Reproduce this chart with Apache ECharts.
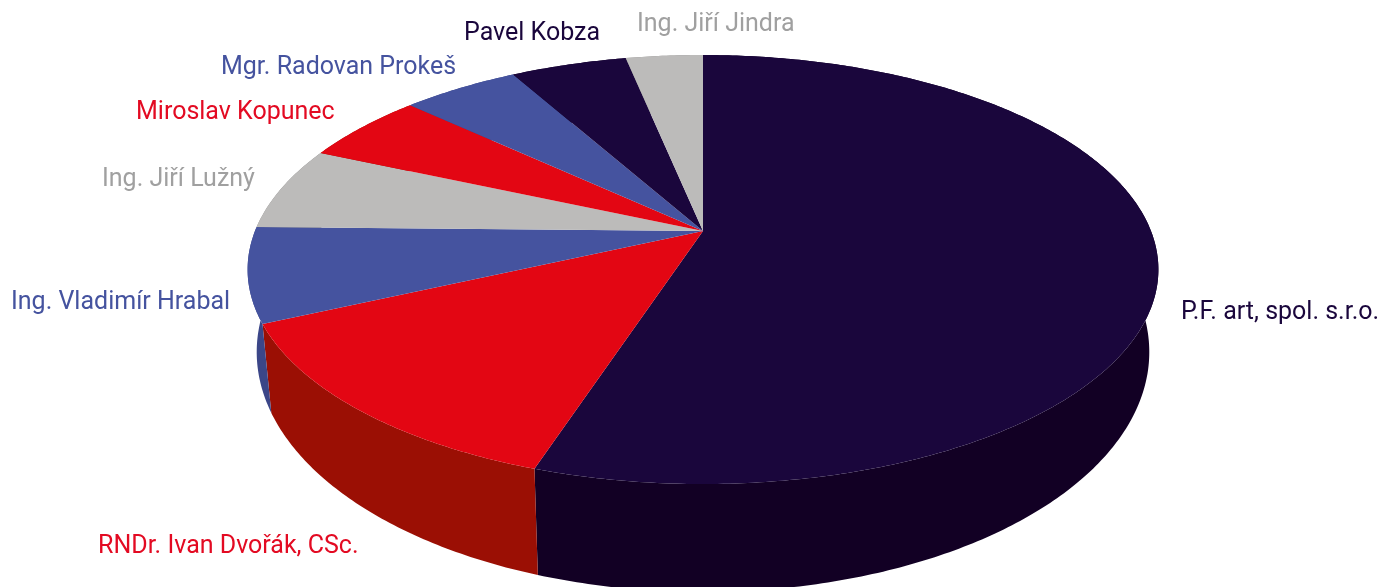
<!DOCTYPE html>
<html>
<head>
<meta charset="utf-8">
<style>html,body{margin:0;padding:0;background:#fff}#c{width:1386px;height:587px}</style>
<script src="https://cdn.jsdelivr.net/npm/echarts@6/dist/echarts.min.js"></script>
</head>
<body>
<div id="c"></div>
<script>
const categories = ['P.F. art, spol. s.r.o.','RNDr. Ivan Dvořák, CSc.','Ing. Vladimír Hrabal','Ing. Jiří Lužný','Miroslav Kopunec','Mgr. Radovan Prokeš','Pavel Kobza','Ing. Jiří Jindra'];
const shares = [55.05,13.15,7.1,6.3,5.3,4.95,4.9,3.25];
const topColors = ['#1a063c','#e30613','#45539f','#bcbbba','#e30613','#45539f','#1a063c','#bcbbba'];
const wallColors = ['#120024','#9b0f04','#3b4688','#8a8988','#9b0f04','#3b4688','#120024','#8a8988'];
const textColors = ['#1a063c','#e30a22','#45539f','#a0a0a0','#e30a22','#45539f','#1a063c','#a0a0a0'];
const labelX = [1181,98,11,102,136,221,464,637];
const labelY = [313,547,303,180,113,68,34,25];

const apex = {x:703,y:231}, a = 448, b = 207.6, k = 0.1795;
const wall = {sx:0.98, sy:1.119, cx:703, top:269.5, bottom:352};
const total = shares.reduce((s,v)=>s+v,0);
const starts = []; shares.reduce((s,v,i)=>{starts[i]=s;return s+v;},0);
const toAngle = v => v/total*Math.PI*2;
function rim(t){
  const u=Math.sin(t), v=-Math.cos(t), d=1-k*v;
  return [apex.x+a*u/d, apex.y+b*v/d];
}
function lower(p){
  return [wall.cx+(p[0]-wall.cx)*wall.sx, wall.bottom+(p[1]-wall.top)*wall.sy];
}
function arc(i){
  const t0=toAngle(starts[i]), t1=toAngle(starts[i]+shares[i]), n=Math.max(8,Math.ceil((t1-t0)*90)), pts=[];
  for(let j=0;j<=n;j++) pts.push(rim(t0+(t1-t0)*j/n));
  return pts;
}
const chart = echarts.init(document.getElementById('c'),null,{renderer:'canvas'});
chart.setOption({
  backgroundColor:'#fff',
  animation:false,
  series:[
    {type:'custom',coordinateSystem:'none',silent:true,z:1,data:shares,
     renderItem(p){
       const i=p.dataIndex, top=arc(i), bot=top.map(lower).reverse();
       return {type:'polygon',shape:{points:top.concat(bot)},style:{fill:wallColors[i]}};
     }},
    {type:'custom',coordinateSystem:'none',silent:true,z:2,data:shares,
     renderItem(p){
       const i=p.dataIndex;
       return {type:'polygon',shape:{points:[[apex.x,apex.y]].concat(arc(i))},style:{fill:topColors[i]}};
     }},
    {type:'custom',coordinateSystem:'none',silent:true,z:3,data:shares,
     renderItem(p){
       const i=p.dataIndex;
       return {type:'text',x:labelX[i],y:labelY[i],style:{text:categories[i],fill:textColors[i],fontFamily:'Roboto',fontSize:25,textAlign:'left',textVerticalAlign:'middle'}};
     }}
  ]
});
</script>
</body>
</html>
